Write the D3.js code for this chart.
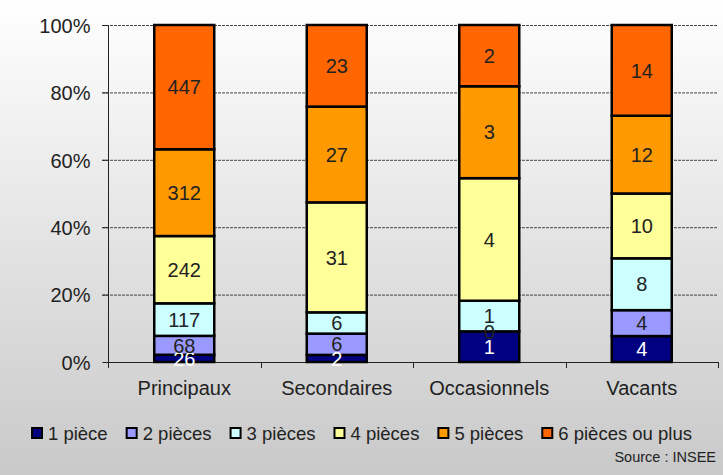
<!DOCTYPE html>
<html>
<head>
<meta charset="utf-8">
<script src="https://cdn.jsdelivr.net/npm/d3@7"></script>
<style>
  html, body { margin: 0; padding: 0; }
  body { width: 723px; height: 475px; overflow: hidden; }
  text { font-family: "Liberation Sans", Arial, sans-serif; fill: #222; }
</style>
</head>
<body>
<div id="chart"></div>
<script>
    // logements par nombre de pieces
    var categories = ["Principaux", "Secondaires", "Occasionnels", "Vacants"];
    var seriesNames = ["1 pièce", "2 pièces", "3 pièces", "4 pièces", "5 pièces", "6 pièces ou plus"];
    var seriesColors = ["#000080", "#9999ff", "#ccffff", "#ffff99", "#ff9900", "#ff6600"];
    var labelColors = ["#ffffff", "#222", "#222", "#222", "#222", "#222"];
    var piece1 = [26, 2, 1, 4];
    var piece2 = [68, 6, 0, 4];
    var piece3 = [117, 6, 1, 8];
    var piece4 = [242, 31, 4, 10];
    var piece5 = [312, 27, 3, 12];
    var piece6 = [447, 23, 2, 14];
    var yTicks = [0, 0.2, 0.4, 0.6, 0.8, 1];
    var sourceText = "Source : INSEE";

    var seriesValues = [piece1, piece2, piece3, piece4, piece5, piece6];

    var width = 723, height = 475;
    var margin = {top: 25, right: 5, bottom: 113, left: 108};
    var plotW = width - margin.left - margin.right,
        plotH = height - margin.top - margin.bottom;

    var svg = d3.select("#chart").append("svg")
        .attr("width", width)
        .attr("height", height);

    // background gradient
    var defs = svg.append("defs");
    var grad = defs.append("linearGradient")
        .attr("id", "bg").attr("x1", 0).attr("y1", 0).attr("x2", 0).attr("y2", 1);
    grad.append("stop").attr("offset", "0%").attr("stop-color", "#ffffff");
    grad.append("stop").attr("offset", "100%").attr("stop-color", "#c9c9c9");
    svg.append("rect").attr("width", width).attr("height", height).attr("fill", "url(#bg)");

    var g = svg.append("g")
        .attr("transform", "translate(" + margin.left + "," + margin.top + ")");

    // build stacked percent data
    var table = categories.map(function(c, i) {
        var row = {cat: c, total: 0};
        seriesValues.forEach(function(vals, s) { row[s] = vals[i]; row.total += vals[i]; });
        seriesValues.forEach(function(vals, s) { row["p" + s] = vals[i] / row.total; });
        return row;
    });
    var stack = d3.stack().keys(seriesNames.map(function(d, s) { return "p" + s; }));
    var stacked = stack(table);

    var x = d3.scaleBand().domain(categories).range([0, plotW]).paddingInner(0).paddingOuter(0);
    var y = d3.scaleLinear().domain([0, 1]).range([plotH, 0]);
    var barW = 60;

    // grid lines
    g.selectAll(".grid")
        .data(yTicks.filter(function(t) { return t > 0; }))
      .enter().append("line")
        .attr("x1", -6).attr("x2", plotW)
        .attr("y1", function(d) { return y(d) + 0.5; })
        .attr("y2", function(d) { return y(d) + 0.5; })
        .attr("stroke", "#444")
        .attr("stroke-dasharray", "3,1");

    // y axis
    var yAxis = d3.axisLeft(y).tickValues(yTicks).tickFormat(d3.format(".0%")).tickSize(6).tickPadding(12);
    var ya = g.append("g").attr("class", "y axis").attr("transform", "translate(0.5,0)").call(yAxis);
    ya.select(".domain").remove();
    ya.selectAll(".tick line").attr("stroke", "#222");
    ya.selectAll("text").style("font-size", "20px").attr("fill", "#333").attr("dy", "0.36em");
    g.append("line").attr("x1", 0.5).attr("x2", 0.5).attr("y1", 0).attr("y2", plotH + 6).attr("stroke", "#222");

    // x axis line + boundary ticks
    g.append("line").attr("x1", 0).attr("x2", plotW).attr("y1", plotH + 0.5).attr("y2", plotH + 0.5).attr("stroke", "#222");
    g.selectAll(".xtick")
        .data(categories.concat(["end"]))
      .enter().append("line")
        .attr("x1", function(d, i) { return Math.round(i * x.bandwidth()) + 0.5; })
        .attr("x2", function(d, i) { return Math.round(i * x.bandwidth()) + 0.5; })
        .attr("y1", plotH).attr("y2", plotH + 6)
        .attr("stroke", "#222");

    g.selectAll(".catlabel")
        .data(categories)
      .enter().append("text")
        .attr("x", function(d) { return x(d) + x.bandwidth() / 2; })
        .attr("y", plotH + 33)
        .attr("text-anchor", "middle")
        .style("font-size", "20px")
        .attr("fill", "#333")
        .text(function(d) { return d; });

    // bars
    var layers = g.selectAll(".layer")
        .data(stacked)
      .enter().append("g")
        .attr("class", "layer")
        .attr("fill", function(d, s) { return seriesColors[s]; });

    layers.selectAll("rect")
        .data(function(d) { return d; })
      .enter().append("rect")
        .attr("x", function(d) { return x(d.data.cat) + x.bandwidth() / 2 - barW / 2; })
        .attr("y", function(d) { return y(d[1]); })
        .attr("width", barW)
        .attr("height", function(d) { return y(d[0]) - y(d[1]); })
        .attr("stroke", "#000")
        .attr("stroke-width", 2.5);

    // value labels (small segments overlap, as in the original)
    stacked.forEach(function(layer, s) {
        g.selectAll(".lab" + s)
            .data(layer)
          .enter().append("text")
            .attr("x", function(d) { return x(d.data.cat) + x.bandwidth() / 2; })
            .attr("y", function(d) { return (y(d[0]) + y(d[1])) / 2; })
            .attr("dy", "0.36em")
            .attr("text-anchor", "middle")
            .style("font-size", "20px")
            .style("fill", labelColors[s])
            .text(function(d) { return d.data[s]; });
    });

    // legend
    var legend = svg.append("g").attr("class", "legend");
    var items = legend.selectAll("g")
        .data(seriesNames)
      .enter().append("g");
    items.append("rect")
        .attr("width", 10).attr("height", 10)
        .attr("x", 1).attr("y", -12)
        .attr("fill", function(d, i) { return seriesColors[i]; })
        .attr("stroke", "#000").attr("stroke-width", 2);
    items.append("text")
        .attr("x", 17)
        .style("font-size", "18.5px")
        .attr("fill", "#333")
        .text(function(d) { return d; });
    var gap = 18, pos = 0, offsets = [];
    items.each(function() {
        offsets.push(pos);
        pos += 17 + d3.select(this).select("text").node().getComputedTextLength() + gap;
    });
    pos -= gap;
    var startX = width / 2 - pos / 2;
    items.attr("transform", function(d, i) { return "translate(" + (startX + offsets[i]) + ",440)"; });

    svg.append("text")
        .attr("x", 716).attr("y", 462)
        .attr("text-anchor", "end")
        .style("font-size", "14.5px")
        .attr("fill", "#333")
        .text(sourceText);
</script>
</body>
</html>
